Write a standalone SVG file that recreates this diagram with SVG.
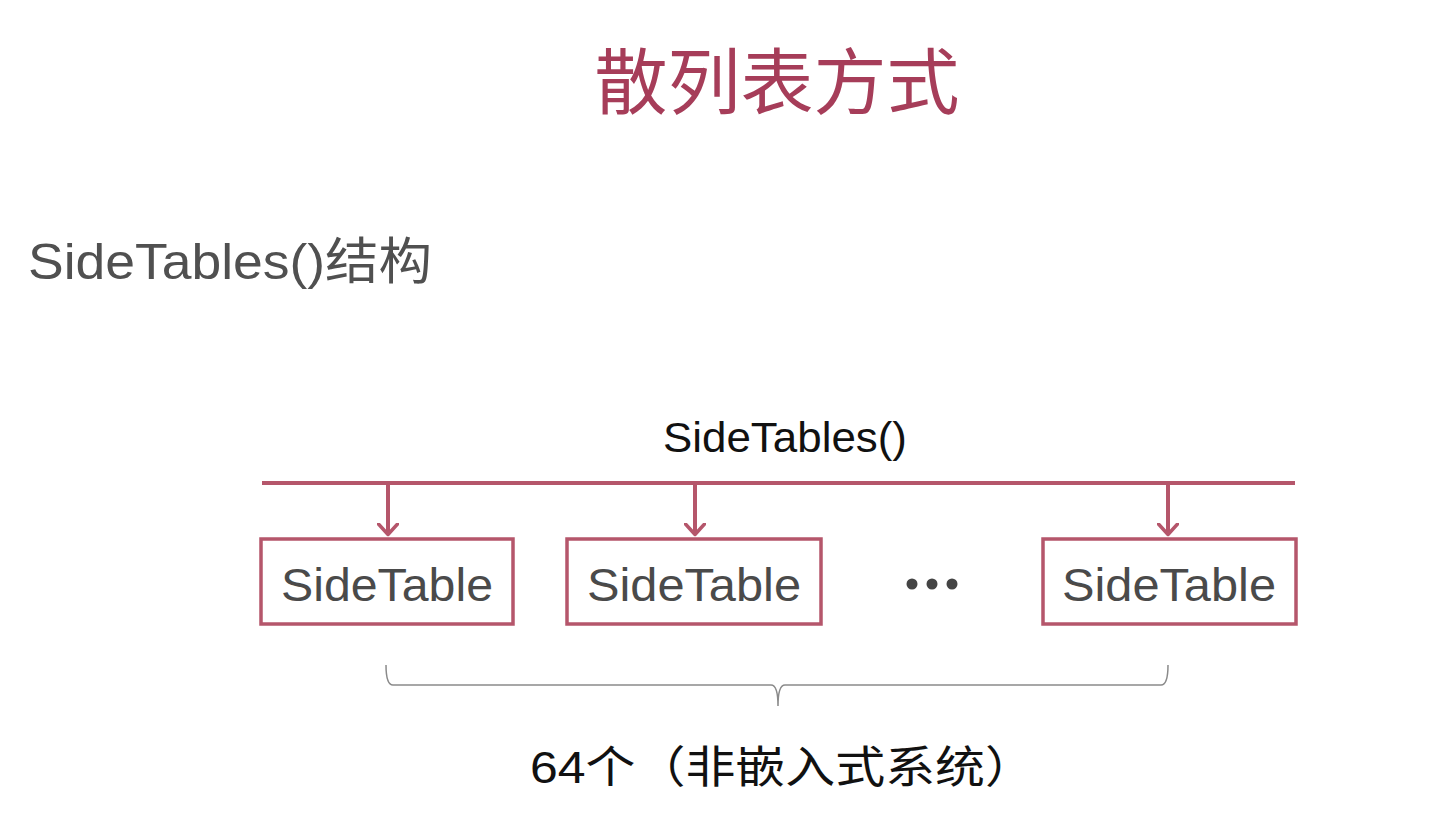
<svg xmlns="http://www.w3.org/2000/svg" width="1448" height="836" viewBox="0 0 1448 836">
<style>
.box{fill:#fff;stroke:#B5566B;stroke-width:3.5}
.lbl{font-family:"Liberation Sans",Arial,sans-serif;font-size:46px;fill:#4a4a4a;text-anchor:middle}
.conn{stroke:#B5566B;stroke-width:4;fill:none}
.cjk{font-family:"Liberation Sans","Noto Sans CJK SC",sans-serif}
</style>
<defs>
<marker id="chev" viewBox="0 0 14 22" refX="12.5" refY="11" markerWidth="14" markerHeight="22" markerUnits="userSpaceOnUse" orient="auto">
<path d="M1.5,1.5 L12,11 L1.5,20.5" fill="none" stroke="#B5566B" stroke-width="3.5" stroke-linecap="round" stroke-linejoin="round"/>
</marker>
</defs>
<rect width="1448" height="836" fill="#fff"/>
<text x="777" y="108" class="cjk" font-size="72" fill="#A63D59" text-anchor="middle" textLength="365" lengthAdjust="spacingAndGlyphs">散列表方式</text>
<text x="28" y="279" class="cjk" font-size="50" fill="#505050" textLength="404" lengthAdjust="spacingAndGlyphs">SideTables()结构</text>
<text x="785" y="452" font-family="Liberation Sans,Arial,sans-serif" font-size="42" fill="#111" text-anchor="middle" textLength="244" lengthAdjust="spacingAndGlyphs">SideTables()</text>
<g id="connectors">
<line class="conn" x1="262" y1="483" x2="1295" y2="483"/>
<line class="conn" x1="388" y1="485" x2="388" y2="535" marker-end="url(#chev)"/>
<line class="conn" x1="695" y1="485" x2="695" y2="535" marker-end="url(#chev)"/>
<line class="conn" x1="1168" y1="485" x2="1168" y2="535" marker-end="url(#chev)"/>
</g>
<g id="node1">
<rect class="box" x="261" y="539" width="252" height="85"/>
<text class="lbl" x="387" y="601" textLength="212" lengthAdjust="spacingAndGlyphs">SideTable</text>
</g>
<g id="node2">
<rect class="box" x="567" y="539" width="254" height="85"/>
<text class="lbl" x="694" y="601" textLength="214" lengthAdjust="spacingAndGlyphs">SideTable</text>
</g>
<g id="ellipsis">
<circle cx="912" cy="584" r="5.5" fill="#444"/>
<circle cx="932" cy="584" r="5.5" fill="#444"/>
<circle cx="952" cy="584" r="5.5" fill="#444"/>
</g>
<g id="node3">
<rect class="box" x="1043" y="539" width="253" height="85"/>
<text class="lbl" x="1169" y="601" textLength="214" lengthAdjust="spacingAndGlyphs">SideTable</text>
</g>
<g id="brace">
<path d="M386,665 Q386,685 393,685 L771,685 Q778,685 778,706 Q778,685 785,685 L1161,685 Q1168,685 1168,665" fill="none" stroke="#8a8a8a" stroke-width="1.5"/>
</g>
<text x="530" y="783" class="cjk" font-size="44" fill="#111" textLength="505" lengthAdjust="spacingAndGlyphs">64个（非嵌入式系统）</text>
</svg>
